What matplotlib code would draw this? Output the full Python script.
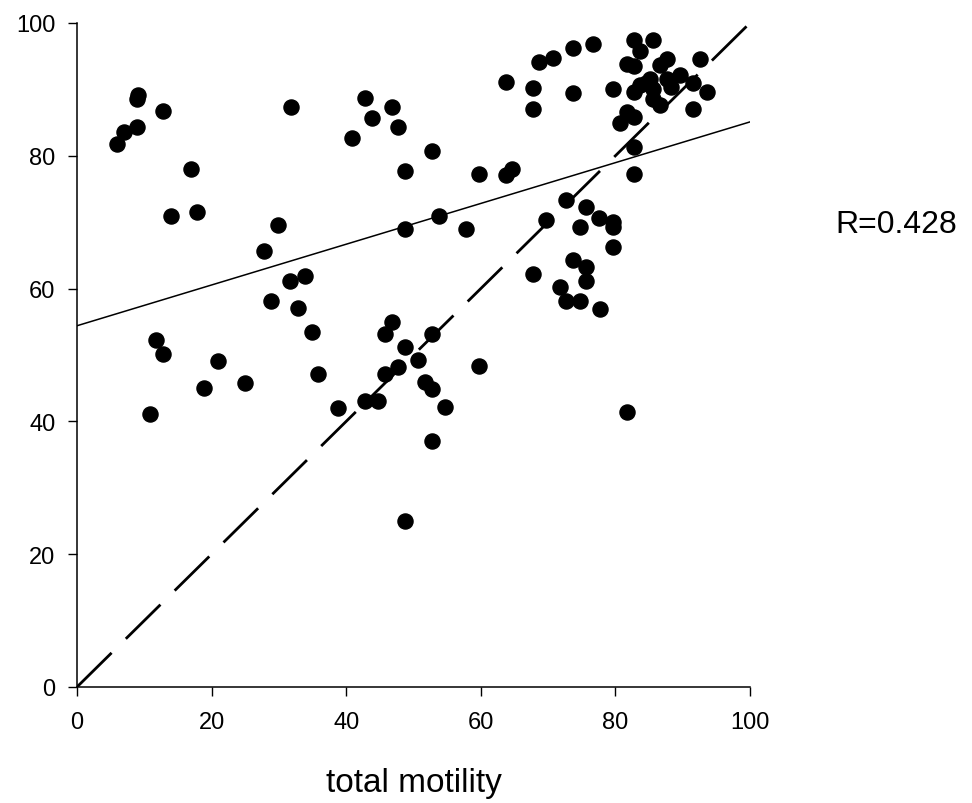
import matplotlib
matplotlib.use("Agg")
import matplotlib.pyplot as plt
import numpy as np

# total motility (x) vs second measure (y)
motility = [5.9, 7.0, 8.9, 8.9, 9.0, 12.8, 16.9, 13.9, 17.9, 31.8,
            42.8, 43.8, 46.8, 47.7, 40.8, 48.8, 48.8, 29.8, 27.8, 31.7,
            33.9, 28.8, 32.8, 34.9, 35.8, 11.8, 12.8, 20.9, 18.9, 24.9,
            10.8, 38.8, 42.8, 44.8, 45.8, 46.8, 48.7, 47.7, 45.8, 50.7,
            51.7, 52.7, 54.7, 52.7, 52.7, 59.8, 48.7, 52.7, 59.8, 63.7,
            64.7, 53.8, 57.8, 72.7, 69.7, 75.6, 74.7, 77.6, 79.7, 79.7,
            79.7, 73.7, 75.7, 75.7, 67.7, 71.7, 72.7, 74.7, 77.7, 81.7,
            63.7, 67.7, 67.7, 73.7, 68.7, 70.7, 73.7, 76.6, 82.7, 85.6,
            83.7, 81.7, 82.7, 87.6, 86.6, 92.6, 79.7, 82.7, 83.7, 85.1,
            85.6, 87.6, 89.6, 88.3, 91.6, 93.6, 91.6, 85.6, 86.6, 81.7,
            82.7, 80.7, 82.7, 82.7, 84.6]
other = [81.7, 83.6, 84.4, 88.6, 89.1, 86.7, 78.0, 70.9, 71.6, 87.4,
         88.7, 85.7, 87.4, 84.3, 82.7, 77.7, 68.9, 69.5, 65.6, 61.1,
         61.9, 58.2, 57.1, 53.5, 47.2, 52.2, 50.1, 49.1, 45.1, 45.8,
         41.1, 42.0, 43.1, 43.1, 53.2, 55.0, 51.2, 48.2, 47.2, 49.2,
         45.9, 44.9, 42.2, 37.1, 53.2, 48.4, 25.0, 80.7, 77.3, 77.1,
         78.0, 70.9, 68.9, 73.3, 70.3, 72.3, 69.3, 70.6, 70.0, 69.2,
         66.3, 64.3, 63.3, 61.1, 62.2, 60.2, 58.2, 58.2, 56.9, 41.4,
         91.1, 90.2, 87.1, 89.4, 94.1, 94.7, 96.2, 96.8, 97.5, 97.5,
         95.8, 93.8, 93.5, 94.6, 93.6, 94.6, 90.1, 89.6, 90.6, 91.6,
         90.1, 91.6, 92.1, 90.4, 90.9, 89.6, 87.1, 88.6, 87.6, 86.6,
         85.9, 84.9, 81.3, 77.3, 90.9]

fit_intercept = 54.4
fit_slope = 0.307
r_value = 0.428

plt.rcParams['font.family'] = ['Liberation Sans', 'DejaVu Sans']

fig = plt.figure(figsize=(9.72, 8.04), dpi=100)
ax = fig.add_axes([0.0792, 0.1443, 0.6924, 0.8259])

ax.scatter(motility, other, s=118, color='black', zorder=3, clip_on=False)

xs = np.array([0, 100])
ax.plot(xs, fit_intercept + fit_slope * xs, color='black', lw=1.1)
ax.plot(xs, xs, color='black', lw=2, linestyle=(0, (17.5, 7.2)))

ax.set_xlim(0, 100)
ax.set_ylim(0, 100)
ax.set_xticks([0, 20, 40, 60, 80, 100])
ax.set_yticks([0, 20, 40, 60, 80, 100])
ax.spines['top'].set_visible(False)
ax.spines['right'].set_visible(False)
ax.spines['left'].set_linewidth(1.1)
ax.spines['bottom'].set_linewidth(1.1)
ax.tick_params(direction='out', length=6.5, width=1, labelsize=17, pad=9)
ax.tick_params(axis='x', pad=11)

ax.set_xlabel('total motility', fontsize=24, labelpad=24)
fig.text(0.859, 0.72, 'R=%.3f' % r_value, fontsize=23, ha='left', va='center')

plt.savefig('out.png', dpi=100)
